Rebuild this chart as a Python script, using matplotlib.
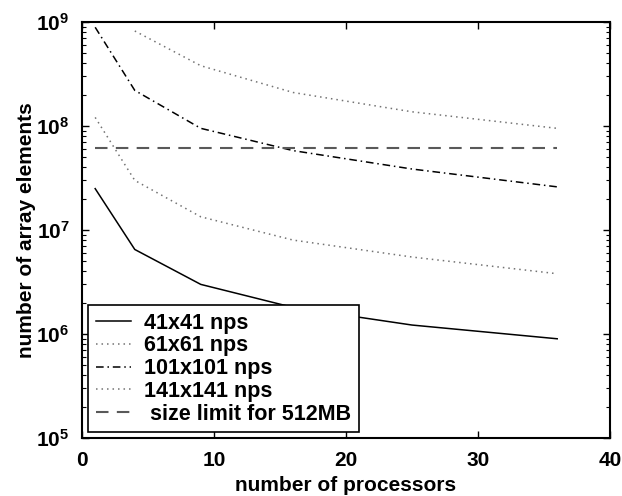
import numpy as np
import matplotlib
matplotlib.use("Agg")
import matplotlib.pyplot as plt
from matplotlib.ticker import LogLocator, NullFormatter

plt.rcParams['font.family'] = ['Liberation Sans', 'DejaVu Sans']
plt.rcParams['font.weight'] = 'bold'
plt.rcParams['mathtext.default'] = 'bf'

# processors used in each run
procs = [1, 4, 9, 16, 25, 36]
procs_141 = [4, 9, 16, 25, 36]

# array elements per processor
n41 = [2.5e7, 6.5e6, 3.0e6, 1.8e6, 1.22e6, 9.0e5]
n61 = [1.21e8, 3.0e7, 1.34e7, 8.0e6, 5.5e6, 3.8e6]
n101 = [8.9e8, 2.2e8, 9.5e7, 5.8e7, 3.86e7, 2.6e7]
n141 = [8.2e8, 3.8e8, 2.1e8, 1.37e8, 9.5e7]

limit_x = [1, 36]
limit_512mb = [6.1e7, 6.1e7]

fig = plt.figure(figsize=(6.22, 4.96), dpi=100)
ax = fig.add_axes([0.1318, 0.1169, 0.8489, 0.8387])

ax.plot(procs, n41, color='black', lw=1.1, label='41x41 nps')
ax.plot(procs, n61, color='0.45', lw=1.1, linestyle=(0, (1, 2.6)), label='61x61 nps')
ax.plot(procs, n101, color='black', lw=1.1, linestyle=(0, (5, 2.5, 1, 2.5)), label='101x101 nps')
ax.plot(procs_141, n141, color='0.45', lw=1.1, linestyle=(0, (1, 2.6)), label='141x141 nps')
ax.plot(limit_x, limit_512mb, color='0.35', lw=1.5, linestyle=(0, (6, 4)), label=' size limit for 512MB')

ax.set_yscale('log')
ax.set_xlim(0, 40)
ax.set_ylim(1e5, 1e9)
ax.set_xticks([0, 10, 20, 30, 40])
ax.yaxis.set_major_locator(LogLocator(base=10, numticks=10))
ax.yaxis.set_minor_locator(LogLocator(base=10, subs=np.arange(2, 10), numticks=10))
ax.yaxis.set_minor_formatter(NullFormatter())

ax.tick_params(which='both', direction='in', top=True, right=True, labelsize=15)
ax.tick_params(which='major', length=5, width=1)
ax.tick_params(which='minor', length=3, width=0.8)
ax.tick_params(axis='x', which='major', pad=9)
ax.tick_params(axis='y', which='major', pad=9)
for s in ax.spines.values():
    s.set_linewidth(1.5)

ax.set_xlabel('number of processors', fontsize=15, fontweight='bold', labelpad=5)
ax.set_ylabel('number of array elements', fontsize=15, fontweight='bold', labelpad=0)

leg = ax.legend(loc='lower left', bbox_to_anchor=(0.012, 0.014), borderaxespad=0,
                fontsize=15.5, fancybox=False, handlelength=1.65, labelspacing=0.08,
                borderpad=0.35, handletextpad=0.6)
leg.get_frame().set_edgecolor('black')
leg.get_frame().set_linewidth(1.2)
leg.get_frame().set_alpha(1)

fig.savefig('out.png', dpi=100)
